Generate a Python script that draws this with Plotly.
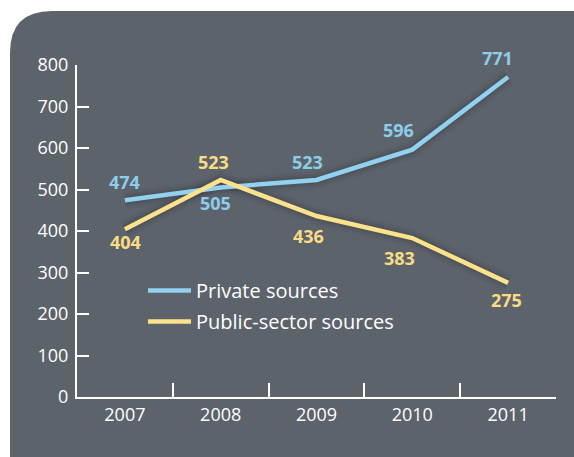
import plotly.graph_objects as go

years = ["2007", "2008", "2009", "2010", "2011"]
private = [474, 505, 523, 596, 771]
public = [404, 523, 436, 383, 275]
y_ticks = [0, 100, 200, 300, 400, 500, 600, 700, 800]

# label offsets (pixels) for value labels
private_shift = [(0, 18), (-5, -16), (-9, 18), (-14, 20), (-11, 19)]
public_shift = [(1, -13), (-7, 18), (-8, -20), (-13, -20), (-2, -17)]

BLUE = "#92d1ef"
YELLOW = "#fce28a"
BLUE_TXT = "#8ecde9"
YELLOW_TXT = "#f9dc84"
PANEL = "#5c636b"
FONT = "Open Sans"

W, H = 574, 457
L, R, T, B = 77, 18, 65, 60
pw, ph = W - L - R, H - T - B


def px(x, y):
    return (x - L) / pw, (H - B - y) / ph


fig = go.Figure()

# soft shadows under lines
for vals in (private, public):
    for w, a in ((18, 0.05), (12, 0.07), (8, 0.10)):
        fig.add_trace(go.Scatter(x=years, y=vals, mode="lines",
                                 line=dict(color=f"rgba(30,34,40,{a})", width=w),
                                 showlegend=False, hoverinfo="skip"))

fig.add_trace(go.Scatter(x=years, y=private, mode="lines", name="Private sources",
                         line=dict(color=BLUE, width=4.5), legendgroup="a"))
fig.add_trace(go.Scatter(x=years, y=public, mode="lines", name="Public-sector sources",
                         line=dict(color=YELLOW, width=4.5), legendgroup="b"))

for vals, shifts, col in ((private, private_shift, BLUE_TXT), (public, public_shift, YELLOW_TXT)):
    for i, (yv, (dx, dy)) in enumerate(zip(vals, shifts)):
        fig.add_annotation(x=i, y=yv, xref="x", yref="y", text=f"<b>{yv}</b>",
                           showarrow=False, xshift=dx, yshift=dy,
                           font=dict(family=FONT, size=18, color=col))

# panel background with rounded top-left corner
r = 42
x0, y0 = px(10, 480)
x1, y1 = px(10, 11 + r)
cx, cy = px(10, 11)
x2, y2 = px(10 + r, 11)
x3, y3 = px(620, 11)
x4, y4 = px(620, 480)
path = (f"M {x0},{y0} L {x1},{y1} Q {cx},{cy} {x2},{y2} "
        f"L {x3},{y3} L {x4},{y4} Z")
fig.add_shape(type="path", path=path, xref="paper", yref="paper",
              fillcolor=PANEL, line=dict(width=0), layer="below")

fig.update_layout(
    width=W, height=H, autosize=False,
    margin=dict(l=L, r=R, t=T, b=B),
    paper_bgcolor="white",
    plot_bgcolor="rgba(0,0,0,0)",
    font=dict(family=FONT, color="white", size=18),
    showlegend=True,
    legend=dict(x=px(143, 0)[0], y=px(0, 271)[1], xanchor="left", yanchor="top",
                bgcolor="rgba(0,0,0,0)", font=dict(size=20, color="white"),
                tracegroupgap=2, itemwidth=43),
    xaxis=dict(type="category", range=[-0.5, 4.5], showline=True, linecolor="white",
               linewidth=2, ticks="inside", tickson="boundaries", ticklen=14,
               tickwidth=2, tickcolor="white", showgrid=False, zeroline=False,
               tickfont=dict(size=18, color="white")),
    yaxis=dict(range=[0, 800], tickvals=y_ticks, showline=True, linecolor="white",
               linewidth=2, ticks="inside", ticklen=12, tickwidth=2, tickcolor="white",
               showgrid=False, zeroline=False, tickfont=dict(size=18, color="white"),
               ticklabelstandoff=3),
)

fig.write_html("out.html", config={"responsive": False, "displayModeBar": False},
               post_script="document.body.style.margin='0';document.body.style.overflow='hidden';")
